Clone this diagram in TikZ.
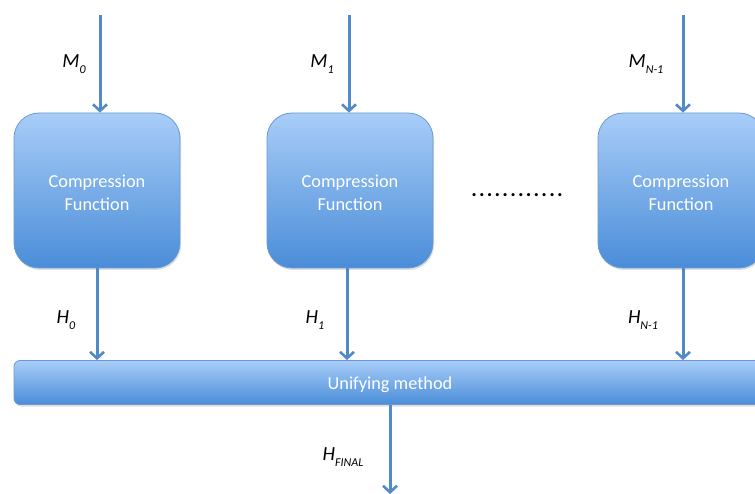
\documentclass[tikz,border=0pt]{standalone}
\usepackage{fontspec}
\setmainfont{Carlito}
\usetikzlibrary{arrows.meta,shadows}
\definecolor{boxtop}{HTML}{A8CDF8}
\definecolor{boxbot}{HTML}{4A8DD8}
\definecolor{boxedge}{HTML}{6A9AD3}
\definecolor{flow}{HTML}{5289C8}
% variable name with a lowered italic index
\newcommand\varsub[2]{#1\raisebox{-0.28em}{\fontsize{12}{12}\selectfont #2}}
% box caption, lowered a little below the geometric centre
\newcommand\lowered[2]{\raisebox{-#1}[\height][\depth]{#2}}
\begin{document}
\begin{tikzpicture}[x=1pt,y=-1pt]
\useasboundingbox (0,0) rectangle (755,494);
\tikzset{
  cfbox/.style={draw=boxedge, line width=0.8pt, rounded corners=25pt,
    top color=boxtop, bottom color=boxbot,
    minimum width=166pt, minimum height=155pt, inner sep=0pt,
    text=white, font=\fontsize{18.3}{23}\selectfont,
    drop shadow={shadow xshift=1pt, shadow yshift=-2pt, opacity=0.25}},
  unibar/.style={draw=boxedge, line width=0.8pt, rounded corners=6pt,
    top color=boxtop, bottom color=boxbot,
    minimum width=752pt, minimum height=44pt, inner sep=0pt,
    text=white, font=\fontsize{18.3}{21}\selectfont,
    drop shadow={shadow xshift=1pt, shadow yshift=-2pt, opacity=0.25}},
  flowarrow/.style={draw=flow, line width=3pt,
    -{Straight Barb[length=6.5pt, width=14pt, line width=2.6pt]}},
  varlabel/.style={font=\fontsize{20}{20}\selectfont\itshape, text=black, inner sep=0pt},
}

% compression stages
\node[cfbox] (cf0) at (97,190.5)
  {\lowered{3.5pt}{\begin{tabular}{@{}c@{}}Compression\\Function\end{tabular}}};
\node[cfbox] (cf1) at (350,190.5)
  {\lowered{3.5pt}{\begin{tabular}{@{}c@{}}Compression\\Function\end{tabular}}};
\node[cfbox] (cfn) at (681,190.5)
  {\lowered{3.5pt}{\begin{tabular}{@{}c@{}}Compression\\Function\end{tabular}}};

% combining stage
\node[unibar] (uni) at (390,382.5) {\lowered{2pt}{Unifying method}};

% message block inputs
\coordinate (m0) at (100,15);
\coordinate (m1) at (349,15);
\coordinate (mn) at (683,15);
\draw[flowarrow] (m0) -- (m0 |- cf0.north);
\draw[flowarrow] (m1) -- (m1 |- cf1.north);
\draw[flowarrow] (mn) -- (mn |- cfn.north);

% chaining values into the combining stage
\coordinate (h0) at (97,0);
\coordinate (h1) at (347,0);
\coordinate (hn) at (683,0);
\draw[flowarrow] (h0 |- cf0.south) -- (h0 |- uni.north);
\draw[flowarrow] (h1 |- cf1.south) -- (h1 |- uni.north);
\draw[flowarrow] (hn |- cfn.south) -- (hn |- uni.north);

% final digest
\coordinate (hout) at (390,494);
\draw[flowarrow] (hout |- uni.south) -- (hout);

% labels
\node[varlabel] (lm0) at (74,64) {\varsub{M}{0}};
\node[varlabel] (lm1) at (322,64) {\varsub{M}{1}};
\node[varlabel] (lmn) at (646,64) {\varsub{M}{N-1}};
\node[varlabel] (lh0) at (66,320) {\varsub{H}{0}};
\node[varlabel] (lh1) at (315,320) {\varsub{H}{1}};
\node[varlabel] (lhn) at (643,320) {\varsub{H}{N-1}};
\node[varlabel] (lhf) at (343,457) {\varsub{H}{FINAL}};

% ellipsis between stages
\node[font=\fontsize{21}{21}\selectfont\bfseries, inner sep=0pt] (gap) at (517,195)
  {\foreach \k in {1,...,12}{\makebox[7.8pt]{.}}};
\end{tikzpicture}
\end{document}
